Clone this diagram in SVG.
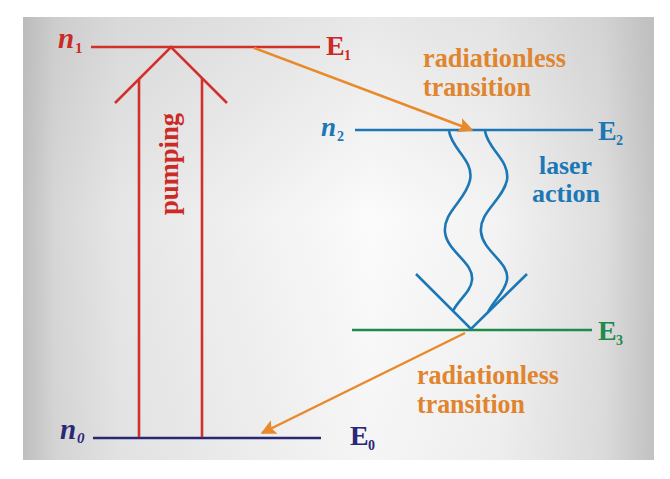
<svg xmlns="http://www.w3.org/2000/svg" width="670" height="479" viewBox="0 0 670 479">
<defs>
<linearGradient id="bgH" x1="0" y1="0" x2="1" y2="0">
<stop offset="0" stop-color="#bfbfbf"/>
<stop offset="0.05" stop-color="#d6d6d6"/>
<stop offset="0.15" stop-color="#e6e6e6"/>
<stop offset="0.55" stop-color="#fbfbfb"/>
<stop offset="0.75" stop-color="#f3f3f3"/>
<stop offset="0.92" stop-color="#dedede"/>
<stop offset="1" stop-color="#c3c3c3"/>
</linearGradient>
<linearGradient id="bgV" x1="0" y1="0" x2="0" y2="1">
<stop offset="0" stop-color="#b0b0b0" stop-opacity="0.25"/>
<stop offset="0.45" stop-color="#b0b0b0" stop-opacity="0"/>
<stop offset="1" stop-color="#b0b0b0" stop-opacity="0.08"/>
</linearGradient>
<marker id="ah" viewBox="0 0 10 10" refX="9" refY="5" markerWidth="7" markerHeight="6" markerUnits="strokeWidth" orient="auto">
<path d="M0,0 L10,5 L0,10 L2,5 z" fill="#e8892a"/>
</marker>
<style>
.lvl{stroke-width:2.6;fill:none}
.red{stroke:#d2302c}
.blue{stroke:#1b77b5}
.green{stroke:#1f8a4c}
.navy{stroke:#2b2777}
.or{stroke:#e8892a;stroke-width:2.5;fill:none}
.t{font-family:"Liberation Serif","Times New Roman",serif;font-weight:bold}
.it{font-style:italic}
.fr{fill:#cc2a26}
.fb{fill:#1b77b5}
.fg{fill:#1f8a4c}
.fn{fill:#2b2777}
.fo{fill:#e0852e}
</style>
</defs>
<rect x="23" y="17" width="631" height="443" fill="url(#bgH)"/>
<rect x="23" y="17" width="631" height="443" fill="url(#bgV)"/>

<g id="level-E1">
<line class="lvl red" x1="91" y1="47" x2="320" y2="47"/>
<text class="t it fr" x="58" y="48" font-size="29">n</text>
<text class="t fr" x="75" y="53" font-size="15">1</text>
<text class="t fr" x="326" y="55" font-size="28">E</text>
<text class="t fr" x="344" y="60" font-size="14">1</text>
</g>

<g id="level-E2">
<line class="lvl blue" x1="355" y1="130" x2="593" y2="130"/>
<text class="t it fb" x="321" y="136" font-size="27">n</text>
<text class="t fb" x="337" y="141" font-size="14">2</text>
<text class="t fb" x="598" y="140" font-size="28">E</text>
<text class="t fb" x="616" y="145" font-size="14">2</text>
</g>

<g id="level-E3">
<line class="lvl green" x1="352" y1="330" x2="592" y2="330"/>
<text class="t fg" x="598" y="340" font-size="28">E</text>
<text class="t fg" x="616" y="345" font-size="14">3</text>
</g>

<g id="level-E0">
<line class="lvl navy" x1="93" y1="438" x2="321" y2="438"/>
<text class="t it fn" x="60" y="439" font-size="29">n</text>
<text class="t it fn" x="77" y="443" font-size="15">0</text>
<text class="t fn" x="350" y="445" font-size="28">E</text>
<text class="t fn" x="368" y="450" font-size="14">0</text>
</g>

<g id="pumping">
<polyline class="lvl red" points="115,103 171,47 227,103"/>
<line class="lvl red" x1="139" y1="79" x2="139" y2="437"/>
<line class="lvl red" x1="202" y1="78" x2="202" y2="437"/>
<text class="t fr" font-size="27" text-anchor="middle" textLength="102" lengthAdjust="spacingAndGlyphs" transform="translate(178,164) rotate(-90)">pumping</text>
</g>

<g id="laser-action">
<path class="lvl blue" d="M449,131 C452,150 474,160 470,180 C466,200 443,212 445,232 C447,252 474,262 472,280 C471,292 458,300 453,311"/>
<path class="lvl blue" d="M485,131 C488,150 510,160 507,180 C503,200 479,212 481,232 C483,252 510,262 507,280 C505,292 494,300 488,312"/>
<polyline class="lvl blue" points="416,274 471,329 527,274"/>
<text class="t fb" x="539" y="174" font-size="25" textLength="53" lengthAdjust="spacingAndGlyphs">laser</text>
<text class="t fb" x="532" y="202" font-size="25" textLength="68" lengthAdjust="spacingAndGlyphs">action</text>
</g>

<g id="label-radiationless-1">
<text class="t fo" x="423" y="67" font-size="28" textLength="143" lengthAdjust="spacingAndGlyphs">radiationless</text>
<text class="t fo" x="423" y="96" font-size="28" textLength="108" lengthAdjust="spacingAndGlyphs">transition</text>
</g>

<g id="label-radiationless-2">
<text class="t fo" x="417" y="384" font-size="28" textLength="142" lengthAdjust="spacingAndGlyphs">radiationless</text>
<text class="t fo" x="417" y="413" font-size="28" textLength="108" lengthAdjust="spacingAndGlyphs">transition</text>
</g>

<g id="connectors">
<line class="or" x1="254" y1="48" x2="472" y2="130" marker-end="url(#ah)"/>
<line class="or" x1="465" y1="333" x2="262" y2="433" marker-end="url(#ah)"/>
</g>
</svg>
